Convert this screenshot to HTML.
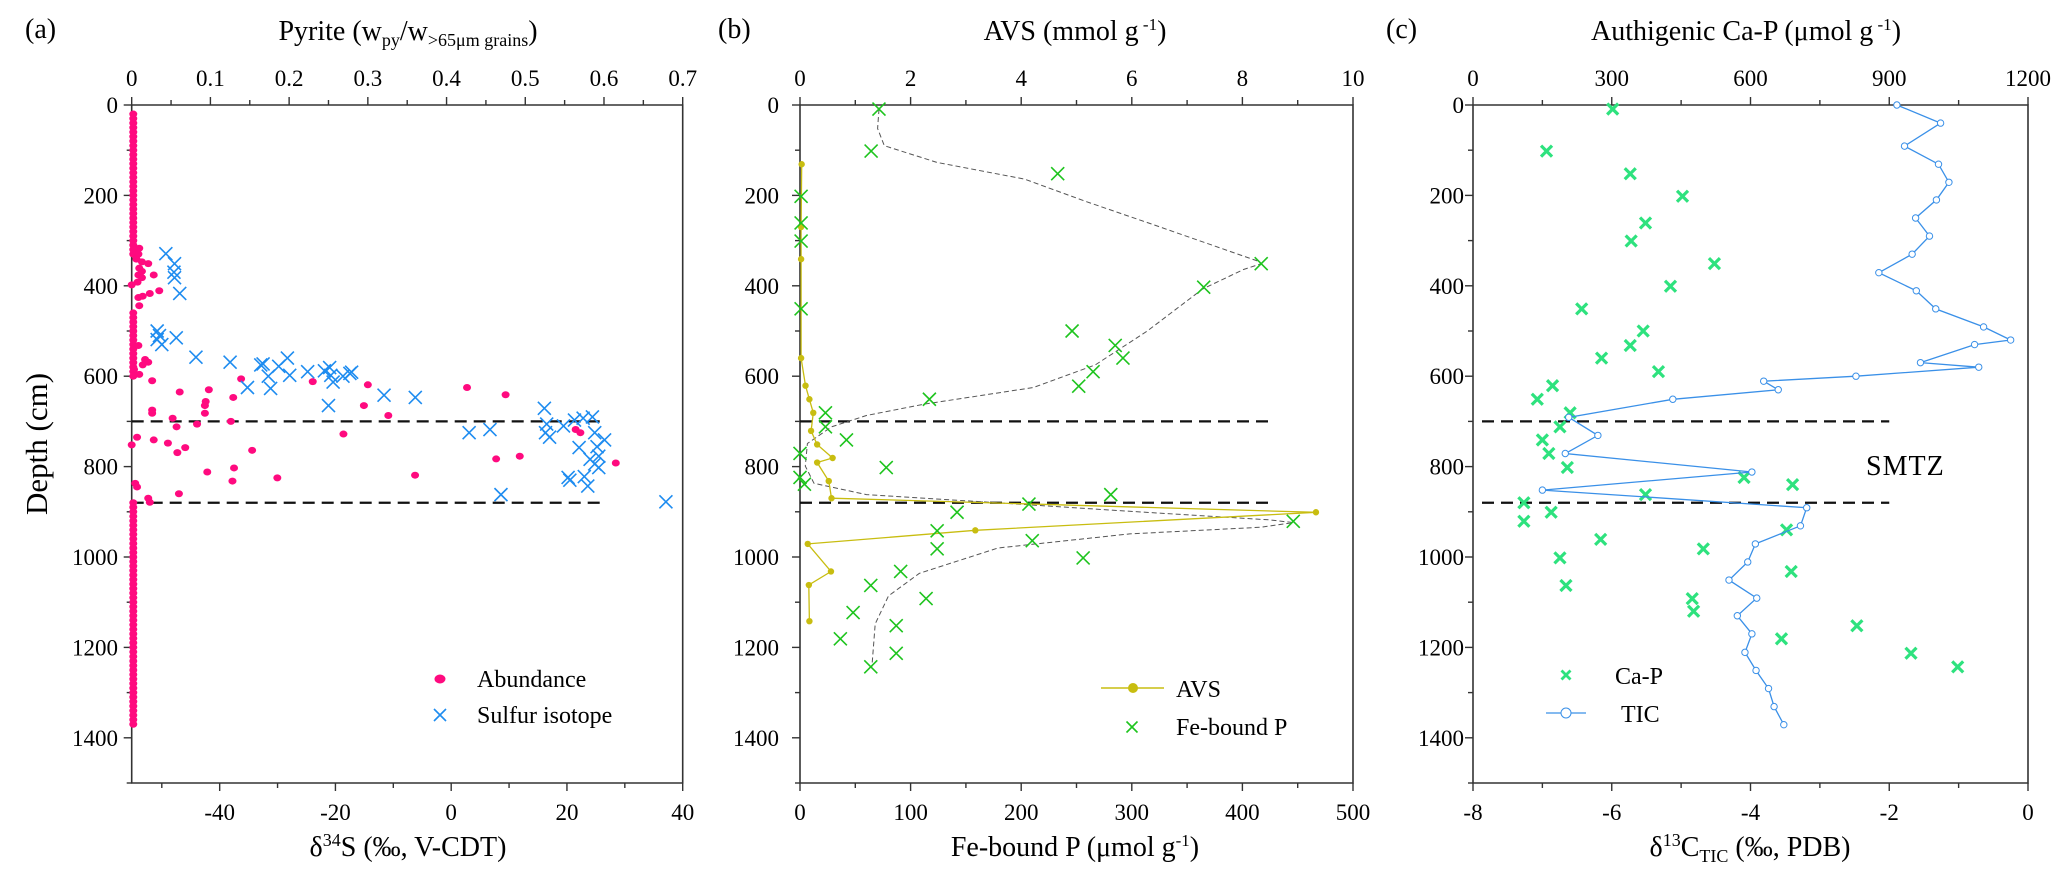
<!DOCTYPE html>
<html><head><meta charset="utf-8">
<style>
html,body{margin:0;padding:0;background:#fff;}
svg, svg text{font-family:"Liberation Serif","DejaVu Serif",serif;}
</style></head>
<body>
<svg id="fig" width="2067" height="880" viewBox="0 0 2067 880" font-family="Liberation Serif, serif" xmlns="http://www.w3.org/2000/svg"></svg>
<script>
// ---------- DATA ----------
const sIsoDelta = [-49.3,-47.8,-47.9,-47.8,-46.9,-50.8,-50.4,-50.8,-50.0,-47.5,-44.1,-38.2,-35.2,-32.9,-32.5,-31.6,-31.2,-29.8,-28.3,-27.9,-24.8,-21.9,-21.0,-20.8,-21.2,-20.4,-18.7,-17.5,-17.2,-11.6,-6.2,3.1,6.7,8.6,16.1,16.5,16.3,17.0,19.4,20.2,20.5,21.3,22.1,22.8,23.0,23.6,24.0,24.4,24.8,25.2,24.8,25.5,26.5,25.5,37.1];
const sIsoDepth = [329,351,370,382,417,500,510,519,530,515,558,569,625,575,573,600,627,578,560,598,590,588,581,598,665,613,600,594,591,642,647,725,718,862,671,706,725,735,710,824,830,697,758,693,822,843,784,690,725,756,794,777,741,802,878];
const abundValue = [0.002,0.002,0.002,0.002,0.002,0.002,0.002,0.002,0.002,0.002,0.002,0.002,0.002,0.002,0.002,0.002,0.002,0.002,0.002,0.002,0.002,0.002,0.002,0.002,0.002,0.002,0.002,0.002,0.002,0.002,0.002,0.002,
0.002,0.002,0.002,0.002,0.002,0.002,0.002,0.002,0.002,0.002,0.002,0.002,0.002,0.002,0.002,
0.002,0.002,0.002,0.002,0.002,0.002,0.002,0.002,0.002,0.002,0.002,0.002,0.002,0.002,0.002,0.002,0.002,0.002,0.002,0.002,0.002,0.002,0.002,0.002,0.002,0.002,0.002,0.002,0.002,0.002,0.002,0.002,0.002,0.002,0.002,0.002,0.002,0.002,0.002,0.002,0.002,0.002,0.002,0.002,0.002,0.002,0.002,0.002,0.002,0.002,
0.0096,0.0085,0.006,0.013,0.021,0.0096,0.013,0.0085,0.028,0.013,0.0074,0,0.014,0.023,0.035,0.0085,0.0096,0.0085,0.017,0.021,0.014,0.003,0.0096,0.026,0.139,0.23,0.30,0.426,0.475,0.061,0.098,0.094,0.093,0.129,0.093,0.026,0.026,0.052,0.083,0.126,0.295,0.326,0.057,0.0068,0,0.028,0.046,0.068,0.058,0.153,0.269,0.564,0.570,0.463,0.493,0.615,0.096,0.130,0.128,0.185,0.36,0.0045,0.0068,0.060,0.021,0.023];
const abundDepth = [20,30,40,50,60,70,80,90,100,110,120,130,140,150,160,170,180,190,200,210,220,230,240,250,260,270,280,290,300,310,320,330,
460,470,480,490,500,510,520,530,540,550,560,570,580,590,600,
880,890,900,910,920,930,940,950,960,970,980,990,1000,1010,1020,1030,1040,1050,1060,1070,1080,1090,1100,1110,1120,1130,1140,1150,1160,1170,1180,1190,1200,1210,1220,1230,1240,1250,1260,1270,1280,1290,1300,1310,1320,1330,1340,1350,1360,1370,
317,330,341,347,351,361,368,376,376,382,392,398,423,417,411,426,444,532,563,569,575,585,596,610,606,612,619,625,641,635,630,656,665,647,682,675,682,693,706,700,665,687,712,735,752,741,748,758,769,764,728,718,725,783,777,792,812,803,832,825,819,837,845,860,870,879];
const feP = [71.4,64.3,233,417,365,246,285,292,265,252,117,1,1,1,1,23,23,42,0,78,0,4,207,281,142,446,124,124,210,256,91,64,114,48,87,36.5,87,64];
const fePDepth = [9,102,152,351,403,500,532,560,590,622,651,202,261,301,451,681,712,741,771,802,824,839,883,862,901,921,942,982,964,1002,1032,1063,1092,1123,1152,1181,1213,1243];
const avs = [0.03,0.02,0.02,0.02,0.1,0.17,0.24,0.2,0.31,0.59,0.31,0.52,0.57,9.33,3.17,0.14,0.56,0.16,0.17];
const avsDepth = [131,270,341,560,621,651,681,721,751,781,791,832,870,901,941,971,1032,1062,1142];
const fitFeP = [71.4,70.2,76.2,123.8,203,259,318.5,413.5,417,401,364,314,267,211,112,60,28.6,6.7,4.8,12.7,60,179,298,425,446,417,298,179,108,80,68,65];
const fitDepth = [9,52,90,127,164,214,264,345,351,364,407,500,575,625,662,687,712,749,799,837,862,880,899,918,924,934,949,980,1036,1086,1148,1243];
const caP = [302,159,340,453,373,342,522,427,235,368,340,278,401,172,139,210,188,150,164,204,586,691,373,110,169,110,678,276,498,188,688,201,474,477,830,667,947,1048];
const caPDepth = [9,102,152,202,261,301,351,401,451,500,532,560,590,621,651,681,712,741,771,802,824,840,862,880,901,921,940,961,982,1002,1032,1063,1092,1120,1152,1181,1213,1243];
const tic = [-1.89,-1.26,-1.78,-1.29,-1.14,-1.32,-1.62,-1.42,-1.67,-2.15,-1.61,-1.33,-0.64,-0.25,-0.77,-1.55,-0.71,-2.48,-3.81,-3.60,-5.12,-6.62,-6.20,-6.67,-3.98,-7.0,-3.19,-3.28,-3.93,-4.04,-4.31,-3.91,-4.19,-3.98,-4.08,-3.92,-3.74,-3.66,-3.52];
const ticDepth = [0,40,91,131,171,210,250,290,330,371,411,451,491,520,530,570,580,600,611,630,651,691,731,771,812,852,891,931,971,1011,1051,1091,1130,1170,1211,1251,1291,1331,1371];
const smtzDepths = [700,880];
const depthTicks = [0,200,400,600,800,1000,1200,1400];
const aBottomTicks = [-40,-20,0,20,40];
const aTopTicks = [0,0.1,0.2,0.3,0.4,0.5,0.6,0.7];
const bBottomTicks = [0,100,200,300,400,500];
const bTopTicks = [0,2,4,6,8,10];
const cBottomTicks = [-8,-6,-4,-2,0];
const cTopTicks = [0,300,600,900,1200];

// ---------- HELPERS ----------
const NS = "http://www.w3.org/2000/svg";
const svg = document.getElementById('fig');
function mk(tag, attrs, parent, text) {
  const e = document.createElementNS(NS, tag);
  for (const k in attrs) e.setAttribute(k, attrs[k]);
  if (tag === 'text') e.setAttribute('font-family', 'Liberation Serif, serif');
  if (text !== undefined) e.textContent = text;
  (parent || svg).appendChild(e);
  return e;
}
const Y0 = 105, Y1 = 783;
const yD = d => Y0 + d / 1500 * (Y1 - Y0);
function lin(d0, d1, p0, p1) { return v => p0 + (v - d0) / (d1 - d0) * (p1 - p0); }

function drawAxes(g, x0, x1, xb, xt, bMaj, bMin, tMaj, tMin, fmtT, labelRight) {
  const ax = mk('path', {d:`M${x0},${Y0}H${x1}V${Y1}H${x0}Z`, fill:'none', stroke:'#333', 'stroke-width':1.6}, g);
  
  
  for (let d = 0; d <= 1500; d += 100) {
    const maj = d % 200 === 0;
    mk('line', {x1:x0 - (maj ? 8 : 5), x2:x0, y1:yD(d), y2:yD(d), stroke:'#333', 'stroke-width':1.4}, g);
  }
  depthTicks.forEach(d => {
    const t = mk('text', {x:labelRight, y:yD(d) + 8, 'text-anchor':'end', 'font-size':23}, g, String(d));
    
    
  });
  bMin.forEach(v => mk('line', {x1:xb(v), x2:xb(v), y1:Y1, y2:Y1 + 5, stroke:'#333', 'stroke-width':1.4}, g));
  bMaj.forEach(v => {
    mk('line', {x1:xb(v), x2:xb(v), y1:Y1, y2:Y1 + 8, stroke:'#333', 'stroke-width':1.4}, g);
    const t = mk('text', {x:xb(v), y:820, 'text-anchor':'middle', 'font-size':23}, g, String(v));
    
    
  });
  tMin.forEach(v => mk('line', {x1:xt(v), x2:xt(v), y1:Y0, y2:Y0 - 5, stroke:'#333', 'stroke-width':1.4}, g));
  tMaj.forEach(v => {
    mk('line', {x1:xt(v), x2:xt(v), y1:Y0, y2:Y0 - 8, stroke:'#333', 'stroke-width':1.4}, g);
    const t = mk('text', {x:xt(v), y:86, 'text-anchor':'middle', 'font-size':23}, g, fmtT(v));
    
    
  });
}
function cross(g, x, y, s, color, w) {
  mk('path', {d:`M${x-s},${y-s}L${x+s},${y+s}M${x-s},${y+s}L${x+s},${y-s}`, stroke:color, 'stroke-width':w, fill:'none'}, g);
}
function smtz(g, x0, x2) {
  smtzDepths.forEach(d => {
    const l = mk('line', {x1:x0, x2:x2, y1:yD(d), y2:yD(d), stroke:'#111', 'stroke-width':2.2, 'stroke-dasharray':'12,7'}, g);
    
    
  });
}

// ---------- PANEL A ----------
const gA = mk('g', {});


const aX0 = 131.7, aX1 = 682.7;
const xDelta = lin(-55.2, 40, aX0, aX1);
const xPy = lin(0, 0.7, aX0, aX1);
drawAxes(gA, aX0, aX1, xDelta, xPy, aBottomTicks, [-50,-30,-10,10,30], aTopTicks, [0.05,0.15,0.25,0.35,0.45,0.55,0.65], v => String(v), 118);
smtz(gA, aX0, xDelta(26.5));
const gAb = mk('g', {}, gA);


abundValue.forEach((v, i) => {
  const e = mk('ellipse', {cx:xPy(v), cy:yD(abundDepth[i]), rx:4, ry:3.5, fill:'#ff0a7f'}, gAb);
  
  
});
const gAs = mk('g', {}, gA);


sIsoDelta.forEach((v, i) => cross(gAs, xDelta(v), yD(sIsoDepth[i]), 6.5, '#1e8cf0', 1.6));
mk('text', {x:25, y:38, 'font-size':28}, gA, '(a)');
const tA = mk('text', {x:408, y:40, 'text-anchor':'middle', 'font-size':28}, gA);


mk('tspan', {}, tA, 'Pyrite (w');
mk('tspan', {'font-size':18, dy:6}, tA, 'py');
mk('tspan', {dy:-6}, tA, '/w');
mk('tspan', {'font-size':18, dy:6}, tA, '>65μm grains');
mk('tspan', {dy:-6}, tA, ')');
const bA = mk('text', {x:408, y:856, 'text-anchor':'middle', 'font-size':28}, gA);


mk('tspan', {}, bA, 'δ');
mk('tspan', {'font-size':18, dy:-10}, bA, '34');
mk('tspan', {dy:10}, bA, 'S (‰, V-CDT)');
const dl = mk('text', {x:0, y:0, 'text-anchor':'middle', 'font-size':31, transform:'translate(47,444) rotate(-90)'}, gA, 'Depth (cm)');


const lgA = mk('g', {}, gA);


mk('ellipse', {cx:440, cy:679, rx:5.5, ry:4.5, fill:'#ff0a7f'}, lgA);
mk('text', {x:477, y:687, 'font-size':24}, lgA, 'Abundance');
cross(lgA, 440, 715, 6, '#1e8cf0', 1.6);
mk('text', {x:477, y:723, 'font-size':24}, lgA, 'Sulfur isotope');

// ---------- PANEL B ----------
const gB = mk('g', {});


const bX0 = 800, bX1 = 1353;
const xFe = lin(0, 500, bX0, bX1);
const xAvs = lin(0, 10, bX0, bX1);
drawAxes(gB, bX0, bX1, xFe, xAvs, bBottomTicks, [50,150,250,350,450], bTopTicks, [1,3,5,7,9], v => String(v), 779);
smtz(gB, bX0, xFe(427));
const fit = mk('path', {d:'M' + fitFeP.map((v, i) => xFe(v).toFixed(1) + ',' + yD(fitDepth[i]).toFixed(1)).join('L'), fill:'none', stroke:'#555', 'stroke-width':1, 'stroke-dasharray':'5,3', 'stroke-linejoin':'round'}, gB);


const avsLine = mk('path', {d:'M' + avs.map((v, i) => xAvs(v).toFixed(1) + ',' + yD(avsDepth[i]).toFixed(1)).join('L'), fill:'none', stroke:'#c8bd10', 'stroke-width':1.3}, gB);


avs.forEach((v, i) => {
  const c = mk('circle', {cx:xAvs(v), cy:yD(avsDepth[i]), r:3.2, fill:'#c8bd10'}, gB);
  
  
});
const gBf = mk('g', {}, gB);


feP.forEach((v, i) => cross(gBf, xFe(v), yD(fePDepth[i]), 6.5, '#1ec41e', 1.6));
mk('text', {x:718, y:38, 'font-size':28}, gB, '(b)');
const tB = mk('text', {x:1075, y:40, 'text-anchor':'middle', 'font-size':28}, gB);


mk('tspan', {}, tB, 'AVS (mmol g');
mk('tspan', {'font-size':17, dy:-10}, tB, ' -1');
mk('tspan', {dy:10}, tB, ')');
const bB = mk('text', {x:1075, y:856, 'text-anchor':'middle', 'font-size':28}, gB);


mk('tspan', {}, bB, 'Fe-bound P (μmol g');
mk('tspan', {'font-size':17, dy:-10}, bB, '-1');
mk('tspan', {dy:10}, bB, ')');
const lgB = mk('g', {}, gB);


mk('line', {x1:1101, x2:1164, y1:688, y2:688, stroke:'#c8bd10', 'stroke-width':1.5}, lgB);
mk('circle', {cx:1133, cy:688, r:5, fill:'#c8bd10'}, lgB);
mk('text', {x:1176, y:697, 'font-size':24}, lgB, 'AVS');
cross(lgB, 1132, 727, 5.5, '#1ec41e', 1.6);
mk('text', {x:1176, y:735, 'font-size':24}, lgB, 'Fe-bound P');

// ---------- PANEL C ----------
const gC = mk('g', {});


const cX0 = 1473, cX1 = 2028;
const xC = lin(-8, 0, cX0, cX1);
const xCa = lin(0, 1200, cX0, cX1);
drawAxes(gC, cX0, cX1, xC, xCa, cBottomTicks, [-7,-5,-3,-1], cTopTicks, [150,450,750,1050], v => String(v), 1464);
smtz(gC, 1482, xC(-2.0));
const gCc = mk('g', {}, gC);


caP.forEach((v, i) => cross(gCc, xCa(v), yD(caPDepth[i]), 5.5, '#2ee27e', 3.2));
const ticLine = mk('path', {d:'M' + tic.map((v, i) => xC(v).toFixed(1) + ',' + yD(ticDepth[i]).toFixed(1)).join('L'), fill:'none', stroke:'#3a90e8', 'stroke-width':1.3}, gC);


tic.forEach((v, i) => {
  const c = mk('circle', {cx:xC(v), cy:yD(ticDepth[i]), r:3.2, fill:'#fff', stroke:'#3a90e8', 'stroke-width':1}, gC);
  
  
});
mk('text', {x:1386, y:38, 'font-size':28}, gC, '(c)');
const tC = mk('text', {x:1746, y:40, 'text-anchor':'middle', 'font-size':28}, gC);


mk('tspan', {}, tC, 'Authigenic Ca-P (μmol g');
mk('tspan', {'font-size':17, dy:-10}, tC, ' -1');
mk('tspan', {dy:10}, tC, ')');
const bC = mk('text', {x:1750, y:856, 'text-anchor':'middle', 'font-size':28}, gC);


mk('tspan', {}, bC, 'δ');
mk('tspan', {'font-size':18, dy:-10}, bC, '13');
mk('tspan', {dy:10}, bC, 'C');
mk('tspan', {'font-size':18, dy:6}, bC, 'TIC');
mk('tspan', {dy:-6}, bC, ' (‰, PDB)');
const sm = mk('text', {x:1866, y:475, 'font-size':28, 'letter-spacing':1}, gC, 'SMTZ');


const lgC = mk('g', {}, gC);


cross(lgC, 1566, 675, 4.5, '#2ee27e', 2.8);
mk('text', {x:1615, y:684, 'font-size':24}, lgC, 'Ca-P');
mk('line', {x1:1546, x2:1586, y1:713, y2:713, stroke:'#3a90e8', 'stroke-width':1.3}, lgC);
mk('circle', {cx:1566, cy:713, r:5, fill:'#fff', stroke:'#3a90e8', 'stroke-width':1}, lgC);
mk('text', {x:1621, y:722, 'font-size':24}, lgC, 'TIC');
</script>
</body></html>
